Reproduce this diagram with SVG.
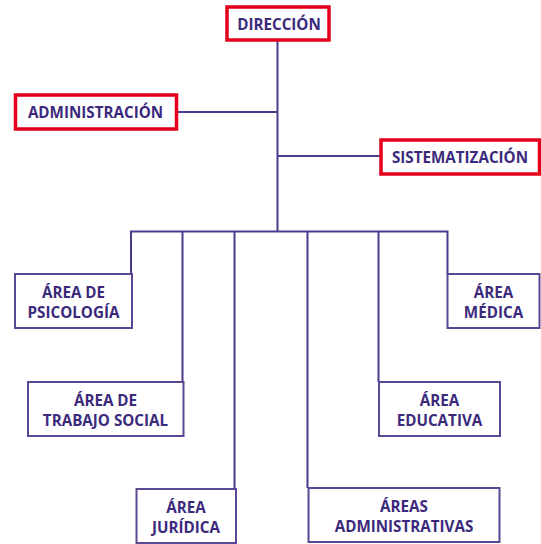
<svg xmlns="http://www.w3.org/2000/svg" width="541" height="544" viewBox="0 0 541 544">
<style>
.red{fill:#fff;stroke:#e3001b;stroke-width:3.5}
.pur{fill:#fff;stroke:#5b4694;stroke-width:2}
.t{font-family:"Open Sans","Noto Sans",sans-serif;font-weight:bold;font-size:15.2px;fill:#3b2a7c;text-anchor:middle}
.c{fill:none;stroke:#4a3a8c;stroke-width:2}
</style>
<rect width="541" height="544" fill="#fff"/>
<g id="connectors">
<path class="c" d="M277.5 40 V232"/>
<path class="c" d="M177 112 H277.5"/>
<path class="c" d="M277.5 156 H380"/>
<path class="c" d="M131 274 V231.5 H447.5 V274"/>
<path class="c" d="M182.5 382 V231.5"/>
<path class="c" d="M234.5 489 V231.5"/>
<path class="c" d="M307.5 488 V231.5"/>
<path class="c" d="M378.5 382 V231.5"/>
</g>
<g id="direccion"><rect class="red" x="227" y="7" width="102" height="33"/><text class="t" x="279" y="29.5">DIRECCIÓN</text></g>
<g id="administracion"><rect class="red" x="15.5" y="95" width="161" height="34"/><text class="t" x="95.5" y="118">ADMINISTRACIÓN</text></g>
<g id="sistematizacion"><rect class="red" x="381" y="140" width="158.5" height="34"/><text class="t" x="460" y="162.5">SISTEMATIZACIÓN</text></g>
<g id="psicologia"><rect class="pur" x="15" y="274" width="117" height="54"/><text class="t" x="73.5" y="298">ÁREA DE</text><text class="t" x="73.5" y="317.5">PSICOLOGÍA</text></g>
<g id="medica"><rect class="pur" x="447.5" y="274" width="92" height="54"/><text class="t" x="493.5" y="298">ÁREA</text><text class="t" x="493.5" y="317.5">MÉDICA</text></g>
<g id="trabajo"><rect class="pur" x="28" y="382" width="155.5" height="54"/><text class="t" x="105.5" y="406">ÁREA DE</text><text class="t" x="105.5" y="425.5">TRABAJO SOCIAL</text></g>
<g id="educativa"><rect class="pur" x="379" y="382" width="121" height="54"/><text class="t" x="439.5" y="406">ÁREA</text><text class="t" x="439.5" y="425.5">EDUCATIVA</text></g>
<g id="juridica"><rect class="pur" x="136.5" y="489" width="99.5" height="54"/><text class="t" x="186" y="513">ÁREA</text><text class="t" x="186" y="532.5">JURÍDICA</text></g>
<g id="administrativas"><rect class="pur" x="308.5" y="488" width="191" height="54"/><text class="t" x="404" y="512">ÁREAS</text><text class="t" x="404" y="531.5">ADMINISTRATIVAS</text></g>
</svg>
